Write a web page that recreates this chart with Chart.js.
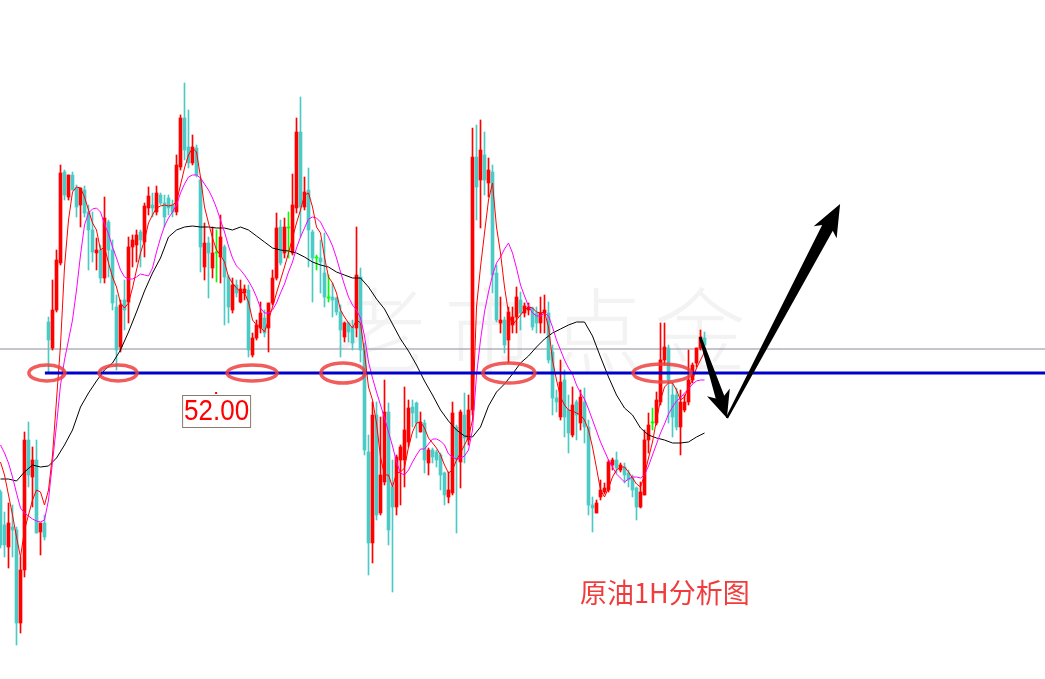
<!DOCTYPE html>
<html>
<head>
<meta charset="utf-8">
<script src="https://cdn.jsdelivr.net/npm/chart.js@4.4.1/dist/chart.umd.min.js"></script>
<style>
  html, body { margin: 0; padding: 0; background: #fff; }
  #wrap { width: 1045px; height: 679px; position: relative; }
</style>
</head>
<body>
<div id="wrap"><canvas id="chart"></canvas></div>
<script>
// hourly bars: [open, high, low, close]
const ohlc = [
  [50.81,50.83,50.25,50.28],[50.48,50.61,50.16,50.28],[50.26,50.70,50.05,50.50],[50.46,50.68,50.16,50.43],
  [50.43,50.46,49.28,49.50],[49.50,50.16,49.40,50.03],[50.03,51.41,49.96,51.33],[51.33,51.51,50.86,50.98],
  [50.96,51.26,50.66,51.13],[51.13,51.33,50.40,50.40],[50.41,50.50,50.18,50.50],[50.50,50.58,50.33,50.36],
  [52.51,52.56,52.01,52.33],[52.25,52.93,52.23,52.63],[52.63,53.23,52.61,53.13],[53.10,54.08,53.08,54.00],
  [54.01,54.03,53.73,53.78],[53.76,53.98,53.73,53.98],[53.98,54.01,53.83,53.83],[53.85,53.88,53.56,53.66],
  [53.68,53.85,53.46,53.85],[53.83,53.87,53.56,53.60],[53.61,53.68,53.03,53.43],[53.43,53.61,53.11,53.21],
  [53.20,53.35,53.03,53.23],[53.23,53.28,52.90,52.95],[52.95,53.76,52.90,53.55],[53.51,53.53,52.96,53.23],
  [53.23,53.33,52.63,52.70],[52.66,52.78,52.03,52.23],[52.26,52.73,52.21,52.68],[52.73,52.93,52.43,52.63],
  [52.71,53.36,52.50,53.26],[53.26,53.38,53.06,53.33],[53.28,53.43,53.11,53.38],[53.41,53.43,53.06,53.33],
  [53.31,53.70,53.16,53.67],[53.65,53.86,53.58,53.77],[53.68,53.80,53.56,53.65],[53.61,53.87,53.58,53.80],
  [53.78,53.80,53.68,53.70],[53.70,53.78,53.46,53.56],[53.75,53.78,53.58,53.65],[53.68,53.73,53.56,53.61],
  [53.61,54.18,53.58,54.08],[54.06,54.58,54.03,54.55],[54.55,54.90,54.13,54.23],[54.26,54.63,54.05,54.10],
  [54.10,54.38,54.08,54.26],[54.25,54.28,53.96,53.98],[53.93,53.95,53.01,53.26],[53.06,53.50,52.93,53.30],
  [53.30,53.36,52.75,53.20],[53.05,53.46,52.95,53.20],[53.20,53.43,52.91,53.20],[53.16,53.58,52.90,53.36],
  [53.26,53.28,52.48,52.96],[52.96,52.98,52.50,52.66],[52.63,52.95,52.60,52.88],[52.88,52.93,52.76,52.80],
  [52.71,52.93,52.70,52.84],[52.80,52.88,52.73,52.84],[52.83,52.88,52.16,52.23],[52.18,52.40,52.16,52.35],
  [52.35,52.53,52.33,52.48],[52.45,52.71,52.40,52.60],[52.55,52.63,52.36,52.40],[52.45,52.70,52.21,52.70],
  [52.70,53.03,52.68,52.95],[52.95,53.60,52.93,53.45],[53.46,53.53,53.08,53.10],[53.20,53.55,53.15,53.46],
  [53.45,53.61,53.15,53.45],[53.20,53.99,53.18,53.68],[53.65,54.55,53.60,54.41],[54.41,54.76,53.36,53.66],
  [53.66,53.96,53.63,53.81],[53.83,54.05,53.06,53.43],[53.41,53.43,52.71,53.15],[53.15,53.18,53.03,53.15],
  [53.15,53.33,52.80,53.11],[53.00,53.40,52.66,52.76],[52.75,52.98,52.71,52.75],[52.76,52.90,52.56,52.73],
  [52.75,52.76,52.58,52.61],[52.61,52.68,52.16,52.43],[52.36,52.51,52.31,52.50],[52.50,52.51,52.31,52.41],
  [52.46,52.53,52.23,52.30],[52.45,53.46,52.36,52.98],[52.96,53.05,52.11,52.23],[52.23,52.30,51.18,51.23],
  [51.21,51.38,49.98,50.30],[50.30,51.71,50.10,51.58],[51.58,51.71,50.53,50.58],[50.60,51.56,50.58,50.98],
  [50.91,51.93,50.88,51.61],[51.61,51.70,50.28,50.43],[50.86,51.13,49.81,50.66],[50.66,51.18,50.58,51.16],
  [51.13,51.28,50.68,51.26],[51.13,51.86,50.86,51.43],[51.31,51.73,51.26,51.65],[51.66,51.73,51.46,51.60],
  [51.70,51.71,51.35,51.50],[51.41,51.61,51.41,51.51],[51.50,51.53,51.00,51.13],[51.10,51.25,50.98,51.23],
  [51.23,51.25,51.10,51.16],[51.21,51.23,51.06,51.13],[51.18,51.20,50.83,50.98],[51.00,51.01,50.68,50.78],
  [50.76,51.01,50.70,50.83],[50.80,51.71,50.78,51.60],[51.46,51.48,50.40,51.13],[51.11,51.63,50.85,51.61],
  [51.58,51.80,51.10,51.35],[51.33,51.78,51.28,51.63],[51.63,54.45,51.58,54.16],[54.16,54.48,53.53,53.86],
  [53.93,54.53,53.45,54.23],[54.18,54.41,53.78,53.93],[53.90,54.15,53.76,54.03],[54.01,54.08,52.80,52.98],
  [53.00,53.08,52.51,52.53],[52.50,52.76,52.40,52.53],[52.53,52.56,52.20,52.28],[52.33,52.66,52.10,52.61],
  [52.48,52.66,52.40,52.56],[52.56,52.86,52.40,52.76],[52.73,52.81,52.43,52.60],[52.60,52.70,52.56,52.67],
  [52.63,52.70,52.58,52.66],[52.65,52.66,52.43,52.46],[52.60,52.66,52.40,52.50],[52.50,52.76,52.40,52.60],
  [52.60,52.78,52.40,52.63],[52.60,52.71,52.10,52.13],[52.21,52.28,51.58,51.75],[51.75,51.83,51.61,51.71],
  [51.56,52.13,51.53,51.91],[51.93,52.03,51.36,51.56],[51.63,51.78,51.20,51.40],[51.38,51.86,51.36,51.68],
  [51.71,51.73,51.33,51.58],[51.50,51.83,51.43,51.76],[51.71,51.85,51.30,51.46],[51.46,51.53,50.58,50.68],
  [50.68,50.76,50.41,50.65],[50.60,50.73,50.60,50.70],[50.76,50.93,50.73,50.83],[50.81,50.90,50.79,50.85],
  [50.83,51.13,50.81,51.11],[51.08,51.15,51.03,51.13],[51.13,51.21,51.00,51.05],[51.03,51.10,51.01,51.08],
  [51.06,51.10,50.90,50.98],[51.00,51.03,50.86,50.93],[50.95,50.98,50.76,50.83],[50.85,50.86,50.53,50.66],
  [50.66,50.91,50.65,50.81],[50.78,51.43,50.78,51.33],[51.33,51.60,51.20,51.48],[51.50,51.65,51.43,51.50],
  [51.50,51.81,51.48,51.73],[51.71,52.50,51.68,52.13],[52.13,52.50,52.08,52.26],[52.25,52.28,51.50,51.93],
  [51.78,51.90,51.36,51.56],[51.78,51.85,51.43,51.46],[51.46,51.83,51.18,51.71],[51.63,51.78,51.61,51.71],
  [51.71,52.23,51.68,51.93],[51.93,52.10,51.90,52.08],[52.10,52.25,52.06,52.25],[52.25,52.43,52.23,52.36],
  [52.35,52.41,52.25,52.28]
];

// red line (fast MA), one value per bar
const maFast = [
  51.11,50.98,50.78,50.58,50.36,50.16,50.43,50.58,50.73,50.83,50.81,50.68,50.83,51.18,51.73,52.28,
  53.06,53.53,53.81,53.86,53.85,53.76,53.63,53.50,53.43,53.23,53.26,53.10,52.96,52.86,52.70,52.65,
  52.70,52.85,53.03,53.20,53.33,53.50,53.58,53.65,53.67,53.68,53.67,53.68,53.71,53.88,54.05,54.18,
  54.25,54.21,53.96,53.66,53.50,53.35,53.23,53.18,53.11,52.96,52.90,52.85,52.81,52.80,52.71,52.53,
  52.48,52.46,52.41,52.53,52.66,52.80,52.93,53.06,53.20,53.35,53.50,53.63,53.78,53.80,53.66,53.46,
  53.40,53.16,52.96,52.90,52.80,52.63,52.56,52.50,52.45,52.53,52.50,52.20,51.86,51.73,51.50,51.16,
  50.98,50.98,50.86,51.00,51.01,51.05,51.26,51.41,51.50,51.51,51.45,51.35,51.30,51.25,51.18,51.08,
  51.00,51.03,51.13,51.20,51.28,51.36,51.53,52.66,53.06,53.40,53.73,53.90,53.46,53.20,52.86,52.60,
  52.48,52.53,52.58,52.63,52.66,52.65,52.61,52.60,52.61,52.46,52.13,51.93,51.76,51.68,51.63,51.62,
  51.60,51.58,51.53,51.43,51.26,51.05,50.83,50.76,50.85,50.96,51.03,51.06,51.06,51.01,50.95,50.89,
  50.86,50.98,51.15,51.31,51.53,51.73,51.86,51.90,51.90,51.83,51.73,51.76,51.86,51.93,52.05,52.13,
  52.21
];

// magenta line (medium MA), one value per bar
const maMid = [
  51.28,51.20,51.10,50.96,50.80,50.65,50.60,50.57,50.54,50.52,50.51,50.53,50.73,51.11,51.48,51.88,
  52.13,52.33,52.53,52.83,53.18,53.48,53.60,53.64,53.65,53.61,53.49,53.39,53.26,53.15,53.03,52.96,
  52.94,52.94,52.96,52.99,52.98,52.97,53.05,53.21,53.35,53.47,53.55,53.61,53.68,53.80,53.89,53.96,
  53.98,53.98,53.95,53.89,53.83,53.75,53.65,53.53,53.41,53.27,53.15,53.07,53.03,52.98,52.92,52.85,
  52.76,52.65,52.60,52.60,52.63,52.70,52.80,52.89,53.01,53.11,53.25,53.36,53.45,53.54,53.56,53.55,
  53.51,53.43,53.36,53.27,53.15,53.01,52.88,52.76,52.68,52.63,52.55,52.37,52.11,51.95,51.81,51.68,
  51.55,51.41,51.27,51.11,51.00,50.98,51.03,51.11,51.18,51.24,51.24,51.29,51.34,51.34,51.32,51.28,
  51.19,51.16,51.14,51.15,51.17,51.23,51.43,51.98,52.33,52.61,52.81,52.98,53.10,53.16,53.24,53.30,
  53.20,53.05,52.88,52.77,52.67,52.60,52.57,52.57,52.60,52.57,52.46,52.33,52.23,52.13,52.05,51.99,
  51.88,51.80,51.74,51.64,51.53,51.42,51.31,51.22,51.13,51.06,50.99,50.95,50.91,50.94,50.96,50.96,
  50.95,50.98,51.07,51.18,51.29,51.40,51.49,51.59,51.66,51.72,51.75,51.80,51.84,51.89,51.92,51.93,
  51.93
];

// black line (slow MA), one value every 2 bars
const maSlowStep = 2;
const maSlow = [
  50.94,50.94,50.92,51.01,51.08,51.06,51.07,51.15,51.28,51.43,51.66,51.80,51.92,52.03,52.10,52.23,
  52.41,52.61,52.82,53.00,53.15,53.36,53.43,53.46,53.47,53.46,53.46,53.45,53.45,53.43,53.46,53.43,
  53.37,53.31,53.25,53.23,53.22,53.20,53.16,53.11,53.08,53.06,53.01,52.98,52.95,52.95,52.86,52.74,
  52.64,52.49,52.34,52.22,52.08,51.92,51.78,51.63,51.52,51.43,51.37,51.36,51.46,51.67,51.81,51.89,
  51.99,52.10,52.17,52.26,52.34,52.40,52.44,52.48,52.51,52.51,52.37,52.16,51.96,51.78,51.65,51.58,
  51.45,51.38,51.35,51.33,51.30,51.30,51.31,51.36,51.40
];

const supportLevel = 52.00;      // blue line
const supportFromBar = 11.1;
const lastPrice = 52.24;         // grey price line
const ringBars = [11.6, 29.4, 62.9, 85.6, 127.1, 165.4];
const ringRadii = [[18, 8], [19, 8], [25, 8], [22, 10], [26, 10], [29, 9]];
const arrowPath = [[174.9, 52.36], [181.6, 51.55], [209.9, 53.69]];
const labelAt = [45.4, 51.78];
const titleText = '原油1H分析图';
const titleAt = [144.9, 49.80];
const watermark = ['老', '市', '点', '金'];
const watermarkBars = [94.9, 122.4, 149.1, 174.9];
const watermarkPrice = 52.43;

const RED = '#ff0000', CYAN = '#4ccbc6', GREEN = '#00ff00';
const barColor = ohlc.map(([o, , , c]) => (c > o ? RED : c < o ? CYAN : GREEN));

function arrow(ctx, p0, p1, tailW, neckW, headLen, headW) {
  const dx = p1[0] - p0[0], dy = p1[1] - p0[1];
  const len = Math.hypot(dx, dy);
  const ux = dx / len, uy = dy / len, nx = -uy, ny = ux;
  const cx = p1[0] - ux * headLen, cy = p1[1] - uy * headLen;
  ctx.beginPath();
  ctx.moveTo(p0[0] + nx * tailW / 2, p0[1] + ny * tailW / 2);
  ctx.lineTo(cx + nx * neckW / 2, cy + ny * neckW / 2);
  ctx.lineTo(cx + nx * headW - ux * 5, cy + ny * headW - uy * 5);
  ctx.lineTo(p1[0], p1[1]);
  ctx.lineTo(cx - nx * headW - ux * 5, cy - ny * headW - uy * 5);
  ctx.lineTo(cx - nx * neckW / 2, cy - ny * neckW / 2);
  ctx.lineTo(p0[0] - nx * tailW / 2, p0[1] - ny * tailW / 2);
  ctx.closePath();
  ctx.fill();
}

const overlay = {
  id: 'overlay',
  beforeDatasetsDraw(chart) {
    const { ctx, scales: { x, y } } = chart;
    ctx.save();
    ctx.fillStyle = '#f3f3f3';
    ctx.font = '300 92px "Noto Sans CJK SC"';
    ctx.textAlign = 'center';
    ctx.textBaseline = 'middle';
    watermark.forEach((ch, k) => {
      ctx.fillText(ch, x.getPixelForValue(watermarkBars[k]), y.getPixelForValue(watermarkPrice));
    });
    ctx.restore();
  },
  afterDatasetsDraw(chart) {
    const { ctx, scales: { x, y } } = chart;
    ctx.save();

    // red rings on the support line
    ctx.strokeStyle = 'rgba(238, 64, 64, 0.85)';
    ctx.lineWidth = 3.5;
    ringBars.forEach((b, k) => {
      ctx.beginPath();
      ctx.ellipse(x.getPixelForValue(b), y.getPixelForValue(supportLevel), ringRadii[k][0], ringRadii[k][1], 0, 0, Math.PI * 2);
      ctx.stroke();
    });

    // price label box
    const lx = x.getPixelForValue(labelAt[0]), ly = y.getPixelForValue(labelAt[1]);
    ctx.fillStyle = '#fff';
    ctx.fillRect(lx, ly, 68, 32);
    ctx.strokeStyle = '#8a7b6c';
    ctx.lineWidth = 1;
    ctx.strokeRect(lx + 0.5, ly + 0.5, 68, 32);
    ctx.fillStyle = RED;
    ctx.fillRect(lx + 33, ly - 3, 2, 2);
    ctx.save();
    ctx.translate(lx + 34.5, ly + 17);
    ctx.scale(1, 1.12);
    ctx.font = '26px "Liberation Sans", Arial, sans-serif';
    ctx.textAlign = 'center';
    ctx.textBaseline = 'middle';
    ctx.fillText(supportLevel.toFixed(2), 0, 0);
    ctx.restore();

    // forecast arrows
    const pts = arrowPath.map(([b, p]) => [x.getPixelForValue(b), y.getPixelForValue(p)]);
    ctx.fillStyle = '#000';
    arrow(ctx, pts[0], pts[1], 2.5, 9, 22, 12);
    arrow(ctx, pts[1], pts[2], 2.5, 12, 27, 13);

    // caption
    ctx.fillStyle = '#f03c3c';
    ctx.font = '27px "Noto Sans CJK SC"';
    ctx.textAlign = 'left';
    ctx.textBaseline = 'middle';
    ctx.fillText(titleText, x.getPixelForValue(titleAt[0]), y.getPixelForValue(titleAt[1]));
    ctx.restore();
  }
};

const xMin = -0.125, xMax = 261.125;

new Chart(document.getElementById('chart'), {
  type: 'bar',
  data: {
    datasets: [
      {
        type: 'line', label: 'support', order: 0,
        data: [{ x: supportFromBar, y: supportLevel }, { x: xMax, y: supportLevel }],
        borderColor: '#0000cc', borderWidth: 3, pointRadius: 0
      },
      {
        type: 'line', label: 'MA fast', order: 1,
        data: maFast.map((v, i) => ({ x: i, y: v })),
        borderColor: RED, borderWidth: 1, pointRadius: 0
      },
      {
        type: 'line', label: 'MA mid', order: 2,
        data: maMid.map((v, i) => ({ x: i, y: v })),
        borderColor: '#ff00ff', borderWidth: 1, pointRadius: 0
      },
      {
        type: 'line', label: 'MA slow', order: 3,
        data: maSlow.map((v, k) => ({ x: k * maSlowStep, y: v })),
        borderColor: '#000', borderWidth: 1, pointRadius: 0
      },
      {
        label: 'body', order: 5,
        data: ohlc.map(([o, , , c], i) => ({ x: i, y: [Math.min(o, c), Math.max(o, c)] })),
        backgroundColor: barColor, barThickness: 3, minBarLength: 1, grouped: false
      },
      {
        label: 'wick', order: 6,
        data: ohlc.map(([, h, l], i) => ({ x: i, y: [l, h] })),
        backgroundColor: barColor, barThickness: 1, grouped: false
      },
      {
        type: 'line', label: 'last', order: 7,
        data: [{ x: xMin, y: lastPrice }, { x: xMax, y: lastPrice }],
        borderColor: '#8a8c9a', borderWidth: 1, pointRadius: 0
      }
    ]
  },
  options: {
    responsive: true,
    maintainAspectRatio: false,
    animation: false,
    devicePixelRatio: 1,
    layout: { padding: 0 },
    plugins: { legend: { display: false }, tooltip: { enabled: false } },
    scales: {
      x: { type: 'linear', min: xMin, max: xMax, offset: false, display: false },
      y: { type: 'linear', min: 48.94, max: 55.73, display: false }
    }
  },
  plugins: [overlay]
});
</script>
</body>
</html>
